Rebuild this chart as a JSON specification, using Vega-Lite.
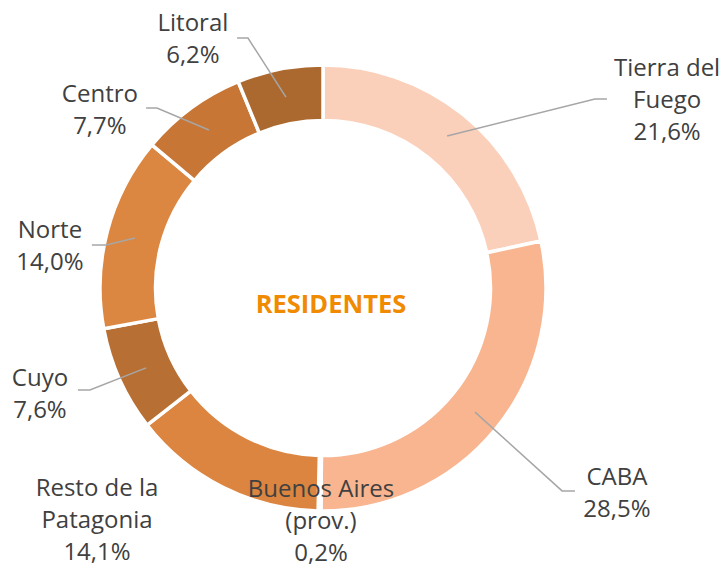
{
  "$schema": "https://vega.github.io/schema/vega-lite/v6.json",
  "autosize": {"type": "none"},
  "padding": {"left": 0, "top": 7, "right": 79, "bottom": 0},
  "width": 646,
  "height": 562,
  "background": "white",
  "config": {"view": {"stroke": null}, "font": "Open Sans"},
  "datasets": {
    "shares": [
      {"region": "Tierra del Fuego", "share": 21.6, "rank": 1},
      {"region": "CABA", "share": 28.5, "rank": 2},
      {"region": "Buenos Aires (prov.)", "share": 0.2, "rank": 3},
      {"region": "Resto de la Patagonia", "share": 14.1, "rank": 4},
      {"region": "Cuyo", "share": 7.6, "rank": 5},
      {"region": "Norte", "share": 14.0, "rank": 6},
      {"region": "Centro", "share": 7.7, "rank": 7},
      {"region": "Litoral", "share": 6.2, "rank": 8}
    ],
    "labels": [
      {"region": "Tierra del Fuego", "text": "Tierra del\nFuego\n21,6%", "u": 1.550, "v": 0.955},
      {"region": "CABA", "text": "CABA\n28,5%", "u": 1.324, "v": -0.887},
      {"region": "Buenos Aires (prov.)", "text": "Buenos Aires\n(prov.)\n0,2%", "u": -0.009, "v": -0.942},
      {"region": "Resto de la Patagonia", "text": "Resto de la\nPatagonia\n14,1%", "u": -1.018, "v": -0.937},
      {"region": "Cuyo", "text": "Cuyo\n7,6%", "u": -1.275, "v": -0.441},
      {"region": "Norte", "text": "Norte\n14,0%", "u": -1.230, "v": 0.225},
      {"region": "Centro", "text": "Centro\n7,7%", "u": -1.005, "v": 0.838},
      {"region": "Litoral", "text": "Litoral\n6,2%", "u": -0.586, "v": 1.158}
    ],
    "leaders": [
      {"region": "Tierra del Fuego", "step": 1, "u": 0.559, "v": 0.685},
      {"region": "Tierra del Fuego", "step": 2, "u": 1.225, "v": 0.851},
      {"region": "Tierra del Fuego", "step": 3, "u": 1.279, "v": 0.851},
      {"region": "CABA", "step": 1, "u": 0.685, "v": -0.559},
      {"region": "CABA", "step": 2, "u": 1.077, "v": -0.914},
      {"region": "CABA", "step": 3, "u": 1.135, "v": -0.914},
      {"region": "Cuyo", "step": 1, "u": -0.797, "v": -0.360},
      {"region": "Cuyo", "step": 2, "u": -1.050, "v": -0.459},
      {"region": "Cuyo", "step": 3, "u": -1.104, "v": -0.459},
      {"region": "Norte", "step": 1, "u": -0.847, "v": 0.225},
      {"region": "Norte", "step": 2, "u": -0.977, "v": 0.194},
      {"region": "Norte", "step": 3, "u": -1.041, "v": 0.194},
      {"region": "Centro", "step": 1, "u": -0.514, "v": 0.712},
      {"region": "Centro", "step": 2, "u": -0.748, "v": 0.811},
      {"region": "Centro", "step": 3, "u": -0.797, "v": 0.811},
      {"region": "Litoral", "step": 1, "u": -0.167, "v": 0.860},
      {"region": "Litoral", "step": 2, "u": -0.338, "v": 1.126},
      {"region": "Litoral", "step": 3, "u": -0.387, "v": 1.126}
    ],
    "center": [{"text": "RESIDENTES", "u": 0.036, "v": -0.113}]
  },
  "layer": [
    {
      "data": {"name": "shares"},
      "mark": {"type": "arc", "innerRadius": 167.5, "outerRadius": 223, "stroke": "white", "strokeWidth": 3.5},
      "encoding": {
        "theta": {"field": "share", "type": "quantitative", "stack": true},
        "order": {"field": "rank", "type": "quantitative"},
        "color": {
          "field": "region",
          "type": "nominal",
          "legend": null,
          "scale": {
            "domain": ["Tierra del Fuego", "CABA", "Buenos Aires (prov.)", "Resto de la Patagonia", "Cuyo", "Norte", "Centro", "Litoral"],
            "range": ["#FBD0BA", "#F8B58F", "#F09A5C", "#DB8540", "#B86F33", "#DB8641", "#C77636", "#AB6930"]
          }
        }
      }
    },
    {
      "data": {"name": "leaders"},
      "mark": {"type": "line", "color": "#A6A6A6", "strokeWidth": 1.5, "clip": false},
      "encoding": {
        "x": {"field": "u", "type": "quantitative", "axis": null, "scale": {"domain": [-1.455, 1.455], "nice": false, "zero": false}},
        "y": {"field": "v", "type": "quantitative", "axis": null, "scale": {"domain": [-1.2658, 1.2658], "nice": false, "zero": false}},
        "detail": {"field": "region", "type": "nominal"},
        "order": {"field": "step", "type": "quantitative"}
      }
    },
    {
      "data": {"name": "labels"},
      "mark": {"type": "text", "lineBreak": "\n", "align": "center", "baseline": "alphabetic", "font": "Open Sans", "fontSize": 24, "lineHeight": 32, "color": "#404040", "clip": false},
      "encoding": {
        "x": {"field": "u", "type": "quantitative", "axis": null, "scale": {"domain": [-1.455, 1.455], "nice": false, "zero": false}},
        "y": {"field": "v", "type": "quantitative", "axis": null, "scale": {"domain": [-1.2658, 1.2658], "nice": false, "zero": false}},
        "text": {"field": "text", "type": "nominal"}
      }
    },
    {
      "data": {"name": "center"},
      "mark": {"type": "text", "align": "center", "baseline": "alphabetic", "font": "Open Sans", "fontSize": 25.5, "fontWeight": "bold", "color": "#F08A00"},
      "encoding": {
        "x": {"field": "u", "type": "quantitative", "axis": null, "scale": {"domain": [-1.455, 1.455], "nice": false, "zero": false}},
        "y": {"field": "v", "type": "quantitative", "axis": null, "scale": {"domain": [-1.2658, 1.2658], "nice": false, "zero": false}},
        "text": {"field": "text", "type": "nominal"}
      }
    }
  ]
}
